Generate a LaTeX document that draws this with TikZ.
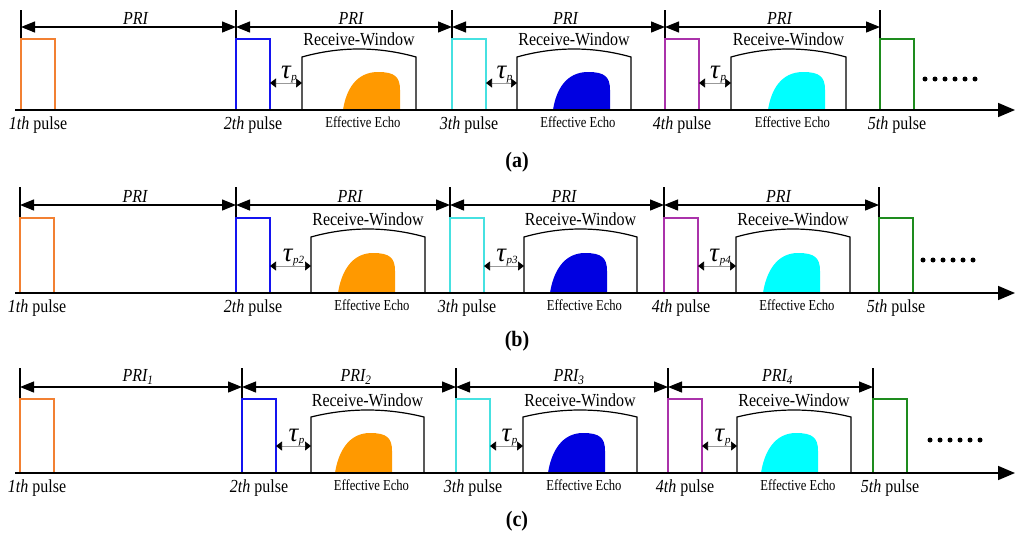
\documentclass[tikz,border=0pt]{standalone}
\usepackage{fontspec}
\setmainfont{Liberation Serif}
\usetikzlibrary{arrows.meta}
\definecolor{porange}{RGB}{242,128,50}
\definecolor{pblue}{RGB}{20,20,240}
\definecolor{pcyan}{RGB}{70,225,225}
\definecolor{pmag}{RGB}{170,50,170}
\definecolor{pgreen}{RGB}{30,140,30}
\definecolor{eorange}{RGB}{255,153,0}
\definecolor{eblue}{RGB}{0,0,225}
\definecolor{ecyan}{RGB}{0,255,255}
\newcommand\fs[1]{\fontsize{#1}{#1}\selectfont}
\newcommand\taulab[1]{\textit{\fs{27}τ}\raisebox{-2pt}{\fs{11}\textit{#1}}}
\tikzset{
  ax/.style={line width=1.6pt,-{Triangle[length=17pt,width=14pt]}},
  tk/.style={line width=1.2pt},
  pri/.style={line width=1.2pt,{Triangle[length=14pt,width=11pt]}-{Triangle[length=14pt,width=11pt]}},
  tau/.style={line width=0.7pt,draw=gray!80,{Triangle[length=6pt,width=9pt,black]}-{Triangle[length=6pt,width=9pt,black]}},
  pl/.style={line width=1.2pt},
  win/.style={line width=1.2pt},
  plab/.style={inner sep=0pt,anchor=base,font=\fs{16},yscale=1.15},
  prilab/.style={inner sep=0pt,font=\fs{16}\itshape,yscale=1.15},
  rwlab/.style={inner sep=0pt,anchor=base,font=\fs{16},yscale=1.15},
  eelab/.style={inner sep=0pt,anchor=base,font=\fs{14.5},xscale=0.87,yscale=1.05},
  taulabel/.style={inner sep=0pt},
  captext/.style={inner sep=0pt,font=\fs{20}\bfseries,yscale=1.1},
  dotfill/.style={fill=black}
}
\def\pw{34}
% #1 tag, #2 pulses x/colour, #3 windows l/r/echo/colour/tau, #4 PRI labels, #5 dots x, #6 dots y
\newcommand\drawpanel[6]{%
  \foreach \x/\c [count=\i] in {#2}{
    \coordinate (#1b\i) at (\x,\Y);
    \coordinate (#1t\i) at (\x,{\Y-\hT});
    \coordinate (#1h\i) at (\x,{\Y-\hP});
    \coordinate (#1a\i) at (\x,{\Y-\hA});
    \coordinate (#1r\i) at ({\x+\pw},{\Y-\hTau});
    \draw[tk] (#1t\i) -- (#1h\i);
    \draw[pl,draw=\c] (#1b\i) -- (#1h\i) -- ++(\pw,0) -- ++(0,\hP);
    \node[plab] (#1n\i) at ({\x+17},{\Y+19}) {\textit{\i th} pulse};
  }
  \foreach \lab [count=\i] in {#4}{
    \pgfmathtruncatemacro\j{\i+1}
    \draw[pri] (#1a\i) -- (#1a\j) node[midway,above=2pt,xshift=7pt,prilab] (#1P\i) {\lab};
  }
  \foreach \l/\r/\e/\ec/\tl [count=\i] in {#3}{
    \pgfmathtruncatemacro\k{\i+1}
    \coordinate (#1wl\i) at (\l,\Y);
    \coordinate (#1wr\i) at (\r,\Y);
    \coordinate (#1wa\i) at (\l,{\Y-\hTau});
    \fill[\ec] (\e,\Y) .. controls ({\e+3},{\Y-20}) and ({\e+13},{\Y-\hE}) .. ({\e+35},{\Y-\hE})
      .. controls ({\e+52},{\Y-\hE}) and ({\e+57},{\Y-\hE+5}) .. ({\e+57},{\Y-\hE+18}) -- ({\e+57},\Y) -- cycle;
    \draw[win] (#1wl\i) -- (\l,{\Y-\hW})
      .. controls ({\l+(\r-\l)/3},{\Y-(8*\hK-2*\hW)/6}) and ({\r-(\r-\l)/3},{\Y-(8*\hK-2*\hW)/6}) ..
      (\r,{\Y-\hW}) -- (#1wr\i);
    \node[rwlab] (#1rw\i) at ({(\l+\r)/2},{\Y-\hK-3.5}) {Receive-Window};
    \node[eelab] (#1ee\i) at ({(\l+\r)/2+4},{\Y+17}) {Effective Echo};
    \draw[tau] (#1r\k) -- (#1wa\i) node[midway,above=0pt,xshift=3pt,taulabel] (#1tau\i) {\tl};
  }
  \foreach \d in {0,...,5}{
    \fill[dotfill] ({#5+\d*10},#6) circle (2.5);
  }
  \coordinate (#1s) at (15,\Y);
  \coordinate (#1e) at (1015,\Y);
  \draw[ax] (#1s) -- (#1e);
}
\begin{document}
\begin{tikzpicture}[x=1pt,y=-1pt]
\useasboundingbox (0,0) rectangle (1024,544);
% panel (a)
\def\Y{110}\def\hT{100}\def\hP{71}\def\hA{83}\def\hW{53}\def\hK{61}\def\hE{38}\def\hTau{27}
\drawpanel{A}{21/porange,236/pblue,452/pcyan,665/pmag,880/pgreen}
  {302/416/343/eorange/{\taulab{p}},517/631/553/eblue/{\taulab{p}},731/846/768/ecyan/{\taulab{p}}}
  {PRI,PRI,PRI,PRI}{925}{79}
\node[captext] (capa) at (517,162) {(a)};
% panel (b)
\def\Y{293}\def\hT{106}\def\hP{75}\def\hA{88}\def\hW{56}\def\hK{64}\def\hE{40}\def\hTau{27}
\drawpanel{B}{20/porange,236/pblue,450/pcyan,664/pmag,879/pgreen}
  {311/425/338/eorange/{\taulab{p2}},524/637/550/eblue/{\taulab{p3}},736/850/763/ecyan/{\taulab{p4}}}
  {PRI,PRI,PRI,PRI}{923}{260}
\node[captext] (capb) at (517,341) {(b)};
% panel (c)
\def\Y{473}\def\hT{105}\def\hP{74}\def\hA{86}\def\hW{56}\def\hK{63}\def\hE{40}\def\hTau{27}
\drawpanel{C}{20/porange,242/pblue,456/pcyan,668/pmag,873/pgreen}
  {311/424/335/eorange/{\taulab{p}},523/637/548/eblue/{\taulab{p}},737/851/761/ecyan/{\taulab{p}}}
  {{PRI\textsubscript{1}},{PRI\textsubscript{2}},{PRI\textsubscript{3}},{PRI\textsubscript{4}}}{930}{440}
\node[captext] (capc) at (517,521) {(c)};
\end{tikzpicture}
\end{document}
